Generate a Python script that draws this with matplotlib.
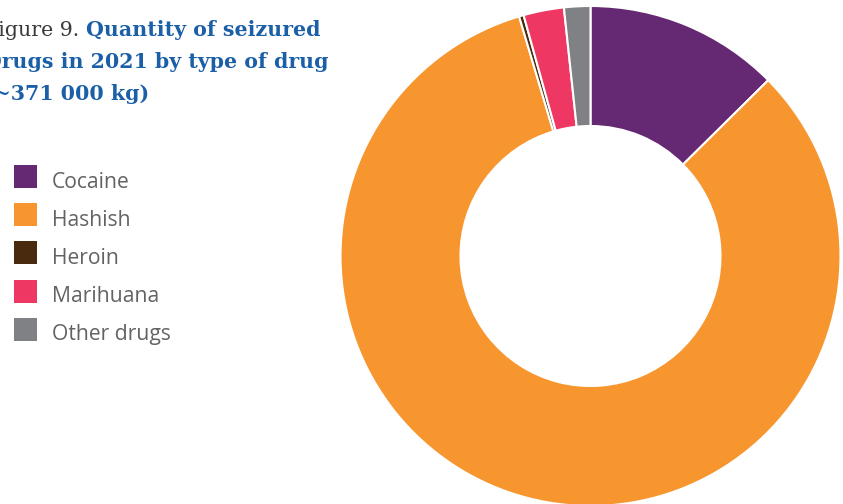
import matplotlib.pyplot as plt
from matplotlib.patches import Rectangle

# seized quantities in kg, 2021 (total about 371 000 kg)
drugs = ['Cocaine', 'Hashish', 'Heroin', 'Marihuana', 'Other drugs']
kg = [46700, 307200, 1100, 9700, 6300]
colors = ['#652873', '#F7962F', '#4A2A0E', '#EE3762', '#808184']

W, H = 843, 504
fig = plt.figure(figsize=(W / 100, H / 100), dpi=100)

# donut, outer radius 250 px, centred at (590, 256) px from top-left
cx, cy, r = 590.5, 256, 250
ax = fig.add_axes([(cx - r) / W, (H - cy - r) / H, 2 * r / W, 2 * r / H])
ax.pie(kg, colors=colors, startangle=90, counterclock=False, radius=1,
       wedgeprops=dict(width=0.48, edgecolor='white', linewidth=1.5))
ax.set_xlim(-1, 1)
ax.set_ylim(-1, 1)
ax.set_aspect('equal')
ax.axis('off')

# legend drawn by hand
for i, (name, col) in enumerate(zip(drugs, colors)):
    top = 165 + i * 38.2
    fig.add_artist(Rectangle((14 / W, 1 - (top + 23) / H), 23 / W, 23 / H,
                             transform=fig.transFigure, color=col, lw=0))
    fig.text(52 / W, 1 - (top + 22.5) / H, name, fontsize=15.2,
             family='Open Sans', color='#636363', va='baseline')

# title, left part runs off the edge
blue = '#1B5FA6'
lines = [('Figure 9. ', 'Quantity of seizured'),
         ('', 'Drugs in 2021 by type of drug'),
         ('', '(~371 000 kg)')]
for i, (plain, bold) in enumerate(lines):
    y = 1 - (40 + i * 32) / H
    t = fig.text(-16 / W, y, plain, fontsize=14.8, family='DejaVu Serif',
                 color='#3a3a3a', va='bottom')
    ax.annotate(bold, xy=(1, 0), xycoords=t, va='bottom', ha='left',
                fontsize=14.8, family='DejaVu Serif', weight='bold',
                color=blue, annotation_clip=False)

fig.savefig('out.png', dpi=100)
